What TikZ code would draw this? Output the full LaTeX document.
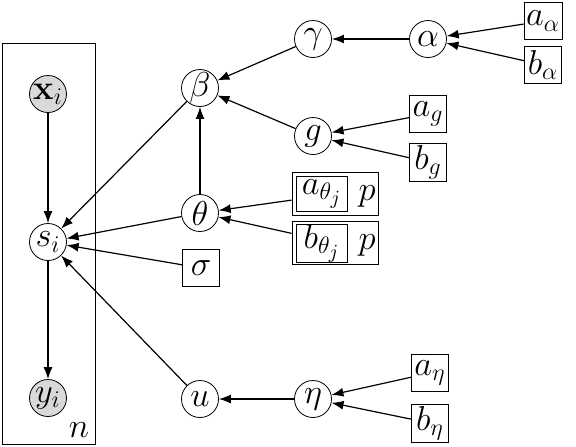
\documentclass[tikz,border=0pt]{standalone}
\usepackage{tikz}
\usetikzlibrary{arrows.meta}

\begin{document}
\begin{tikzpicture}[
  x=0.5pt, y=-0.5pt,
  var/.style={draw, circle, minimum size=18.5pt, inner sep=-1pt, font=\LARGE},
  obs/.style={var, fill=gray!30},
  box/.style={draw, rectangle, minimum size=18.5pt, inner sep=1pt, font=\LARGE},
  plate/.style={draw, rectangle, inner sep=0pt},
  arr/.style={-{Latex[length=6pt, width=4.5pt]}, line width=0.6pt}]
\useasboundingbox (0,0) rectangle (576,446);
% plate over the observations
\node[plate, minimum width=46.5pt, minimum height=200.5pt] (obsplate) at (48.5,243.5) {};
\node[font=\LARGE] (n) at (79,430) {$n$};
\node[obs] (x) at (48,94) {$\mathbf{x}_i$};
\node[var] (s) at (48,242) {$s_i$};
\node[obs] (y) at (48,398) {$y_i$};
% hyperparameters
\node[var] (beta) at (200,88) {$\beta$};
\node[var] (gam) at (313,39) {$\gamma$};
\node[var] (alp) at (428,39) {$\alpha$};
\node[box] (aal) at (543,21) {$a_\alpha$};
\node[box] (bal) at (543,65) {$b_\alpha$};
\node[var] (g) at (313,136) {$g$};
\node[box] (ag) at (428,114) {$a_g$};
\node[box] (bg) at (428,162) {$b_g$};
\node[var] (th) at (200,213) {$\theta$};
\node[plate, minimum width=43pt, minimum height=21.5pt] (athp) at (335,194) {};
\node[box, minimum width=25.5pt, minimum height=17.5pt, inner sep=0pt] (ath) at (322,194) {$a_{\theta_j}$};
\node[font=\LARGE] (pa) at (367,196) {$p$};
\node[plate, minimum width=43pt, minimum height=21.5pt] (bthp) at (335,243) {};
\node[box, minimum width=25.5pt, minimum height=17.5pt, inner sep=0pt] (bth) at (322,243) {$b_{\theta_j}$};
\node[font=\LARGE] (pb) at (367,245) {$p$};
\node[box] (sig) at (201,268) {$\sigma$};
\node[var] (u) at (200,399) {$u$};
\node[var] (eta) at (313,399) {$\eta$};
\node[box] (aeta) at (430,373) {$a_\eta$};
\node[box] (beta2) at (430,423) {$b_\eta$};
\foreach \a/\b in {x/s, s/y, gam/beta, g/beta, th/beta, alp/gam, aal/alp, bal/alp, ag/g, bg/g, athp/th, bthp/th, beta/s, th/s, sig/s, u/s, eta/u, aeta/eta, beta2/eta} \draw[arr] (\a) -- (\b);
\end{tikzpicture}
\end{document}
